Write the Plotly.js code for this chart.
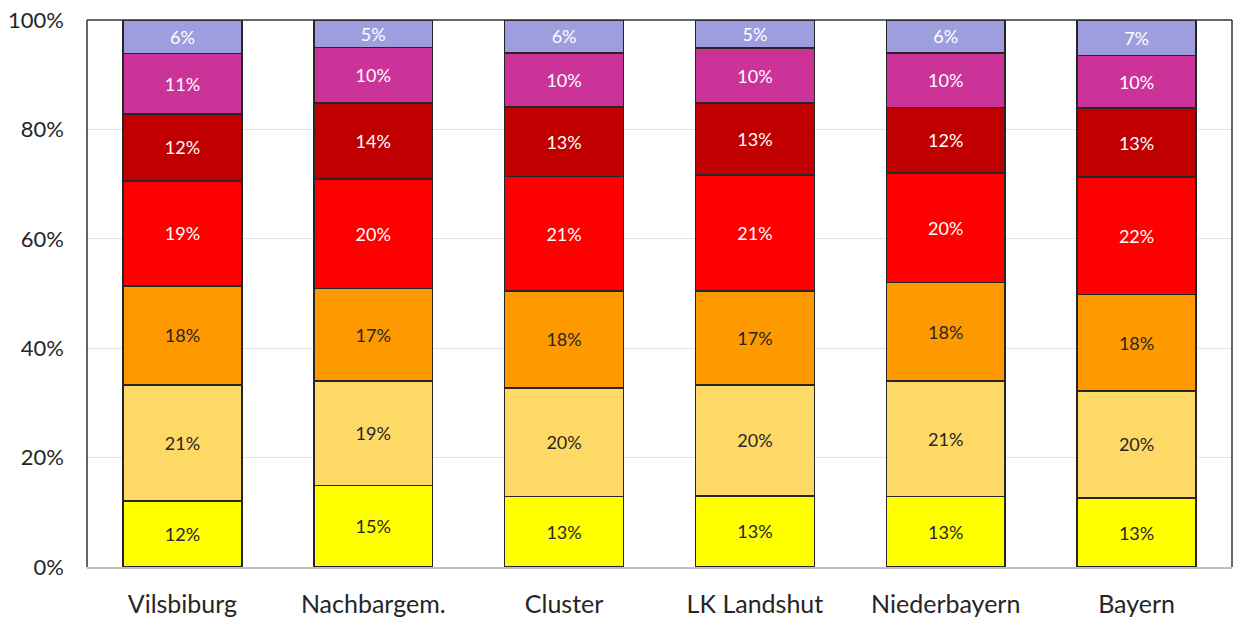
<!DOCTYPE html>
<html>
<head>
<meta charset="utf-8">
<script src="https://cdn.plot.ly/plotly-3.0.1.min.js"></script>
<style>
  html, body { margin: 0; padding: 0; background: #fff; }
  #chart { width: 1238px; height: 628px; }
</style>
</head>
<body>
<div id="chart"></div>
<script>
const regions = ["Vilsbiburg", "Nachbargem.", "Cluster", "LK Landshut", "Niederbayern", "Bayern"];

// shares per segment, bottom to top (percent)
const seg1 = [12.1, 14.9, 12.9, 13.0, 12.9, 12.6];
const seg2 = [21.2, 19.1, 19.8, 20.3, 21.1, 19.6];
const seg3 = [18.1, 16.9, 17.8, 17.2, 18.0, 17.6];
const seg4 = [19.2, 20.0, 20.9, 21.2, 20.0, 21.5];
const seg5 = [12.2, 13.9, 12.7, 13.1, 12.0, 12.6];
const seg6 = [11.1, 10.2, 9.9, 10.1, 10.0, 9.6];
const seg7 = [6.1, 5.0, 6.0, 5.1, 6.0, 6.5];

const yTicks = [0, 20, 40, 60, 80, 100];

const segments = [
  { y: seg1, color: "#FFFF00", text: "#262626" },
  { y: seg2, color: "#FFD966", text: "#262626" },
  { y: seg3, color: "#FF9900", text: "#262626" },
  { y: seg4, color: "#FF0000", text: "#FFFFFF" },
  { y: seg5, color: "#C00000", text: "#FFFFFF" },
  { y: seg6, color: "#CC3399", text: "#FFFFFF" },
  { y: seg7, color: "#9E9EDE", text: "#FFFFFF" }
];

const font = "Lato, 'Open Sans', sans-serif";

const traces = segments.map(s => ({
  type: "bar",
  x: regions,
  y: s.y,
  marker: { color: s.color, line: { color: "#262626", width: 1.5 } },
  texttemplate: "%{y:.0f}%",
  textposition: "inside",
  insidetextanchor: "middle",
  textangle: 0,
  constraintext: "none",
  textfont: { family: font, size: 18, color: s.text },
  hoverinfo: "skip",
  showlegend: false
}));

const frame = { type: "line", xref: "paper", yref: "paper", line: { color: "#333333", width: 1.5 } };

Plotly.newPlot("chart", traces, {
  width: 1238, height: 628,
  barmode: "stack",
  bargap: 0.377,
  paper_bgcolor: "#ffffff", plot_bgcolor: "#ffffff",
  margin: { l: 87, r: 6, t: 20, b: 61 },
  font: { family: font, color: "#262626" },
  xaxis: {
    showline: true, linecolor: "#BFBFBF", linewidth: 1.5,
    ticks: "", showgrid: false,
    ticklabelstandoff: 14,
    tickfont: { family: font, size: 25, color: "#262626" }
  },
  yaxis: {
    range: [0, 100], tickvals: yTicks, ticktext: yTicks.map(v => v + "%"),
    showgrid: true, gridcolor: "#E3E3E3", gridwidth: 1,
    zeroline: false, showline: false, ticks: "",
    ticklabelstandoff: 22,
    tickfont: { family: font, size: 22, color: "#262626" }
  },
  shapes: [
    { ...frame, x0: 0, x1: 0, y0: 0, y1: 1 },
    { ...frame, x0: 0, x1: 1, y0: 1, y1: 1 },
    { ...frame, x0: 1, x1: 1, y0: 0, y1: 1 }
  ]
}, { displayModeBar: false, staticPlot: true });
</script>
</body>
</html>
